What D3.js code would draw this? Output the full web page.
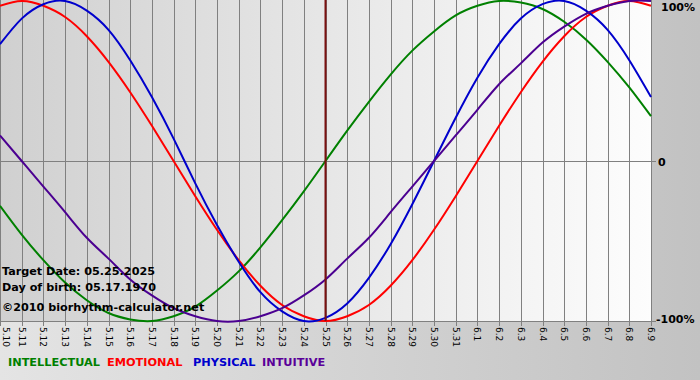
<!DOCTYPE html>
<html><head><meta charset="utf-8">
<script src="https://cdn.jsdelivr.net/npm/d3@7"></script>
<style>html,body{margin:0;padding:0;}svg{display:block;}</style>
</head><body>
<svg id="c" width="700" height="380"></svg>
<script>
const dayLabels = ["5.10","5.11","5.12","5.13","5.14","5.15","5.16","5.17","5.18","5.19","5.20","5.21","5.22","5.23","5.24","5.25","5.26","5.27","5.28","5.29","5.30","5.31","6.1","6.2","6.3","6.4","6.5","6.6","6.7","6.8","6.9"];
const intellectual = [-0.28,-0.46,-0.62,-0.76,-0.87,-0.95,-0.99,-1.00,-0.97,-0.91,-0.81,-0.69,-0.54,-0.37,-0.19,0.00,0.19,0.37,0.54,0.69,0.81,0.91,0.97,1.00,0.99,0.95,0.87,0.76,0.62,0.46,0.28];
const emotional = [0.97,1.00,0.97,0.90,0.78,0.62,0.43,0.22,0.00,-0.22,-0.43,-0.62,-0.78,-0.90,-0.97,-1.00,-0.97,-0.90,-0.78,-0.62,-0.43,-0.22,0.00,0.22,0.43,0.62,0.78,0.90,0.97,1.00,0.97];
const physical = [0.73,0.89,0.98,1.00,0.94,0.82,0.63,0.40,0.14,-0.14,-0.40,-0.63,-0.82,-0.94,-1.00,-0.98,-0.89,-0.73,-0.52,-0.27,0.00,0.27,0.52,0.73,0.89,0.98,1.00,0.94,0.82,0.63,0.40];
const intuitive = [0.16,0.00,-0.16,-0.32,-0.48,-0.61,-0.74,-0.84,-0.92,-0.97,-1.00,-1.00,-0.97,-0.92,-0.84,-0.74,-0.61,-0.48,-0.32,-0.16,0.00,0.16,0.32,0.48,0.61,0.74,0.84,0.92,0.97,1.00,1.00];
const seriesNames = ["INTELLECTUAL","EMOTIONAL","PHYSICAL","INTUITIVE"];
const yTickLabels = ["100%","0","-100%"];
const yTickValues = [1,0,-1];
const targetIndex = 15;
const infoLines = ["Target Date: 05.25.2025","Day of birth: 05.17.1970","©2010 biorhythm-calculator.net"];

const colors = {INTELLECTUAL:"#008000",EMOTIONAL:"#ff0000",PHYSICAL:"#0000cc",INTUITIVE:"#4b0091"};
const legendColors = {INTELLECTUAL:"#008000",EMOTIONAL:"#ff0000",PHYSICAL:"#0000cc",INTUITIVE:"#5a0099"};
const series = [
  {name:"INTELLECTUAL", values:intellectual},
  {name:"EMOTIONAL", values:emotional},
  {name:"PHYSICAL", values:physical},
  {name:"INTUITIVE", values:intuitive}
];

const svg = d3.select("#c");
const defs = svg.append("defs");
const bgG = defs.append("linearGradient").attr("id","bg").attr("x1","0").attr("x2","1").attr("y1","0").attr("y2","0");
bgG.append("stop").attr("offset","0").attr("stop-color","#e4e4e4");
bgG.append("stop").attr("offset","1").attr("stop-color","#c2c2c2");
const plG = defs.append("linearGradient").attr("id","pl").attr("x1","0").attr("x2","1").attr("y1","0").attr("y2","0");
plG.append("stop").attr("offset","0").attr("stop-color","#d0d0d0");
plG.append("stop").attr("offset","1").attr("stop-color","#fdfdfd");

const pLeft = 0, pRight = 651, pTop = 0, pBottom = 321;
const x = d3.scaleLinear().domain([0, dayLabels.length-1]).range([pLeft, pRight]);
const y = d3.scaleLinear().domain([-1,1]).range([pBottom, pTop+1]);

svg.append("rect").attr("width",700).attr("height",380).attr("fill","url(#bg)");
svg.append("rect").attr("x",pLeft).attr("y",pTop).attr("width",pRight-pLeft+1).attr("height",pBottom-pTop).attr("fill","url(#pl)");

// vertical grid
svg.append("g").selectAll("line").data(dayLabels).join("line")
  .attr("x1",(d,i)=>Math.round(x(i))+0.5).attr("x2",(d,i)=>Math.round(x(i))+0.5)
  .attr("y1",pTop).attr("y2",pBottom+5)
  .attr("stroke","#808080").attr("stroke-width",1);

// horizontal zero line and bottom axis
svg.append("line").attr("x1",pLeft).attr("x2",pRight+5).attr("y1",Math.round(y(0))+0.5).attr("y2",Math.round(y(0))+0.5).attr("stroke","#808080");
svg.append("line").attr("x1",pLeft).attr("x2",pRight+5).attr("y1",pBottom+0.5).attr("y2",pBottom+0.5).attr("stroke","#808080");

// x labels
svg.append("g").selectAll("text").data(dayLabels).join("text")
  .attr("transform",(d,i)=>`translate(${Math.max(Math.round(x(i))-3,3)},${pBottom+6}) rotate(90)`)
  .attr("font-family","DejaVu Sans, Verdana, sans-serif").attr("font-size","9px")
  .attr("fill","#000").text(d=>d);

// y labels
svg.append("g").selectAll("text").data(yTickValues).join("text")
  .attr("x",(d,i)=>i===1?658:(i===0?661:656))
  .attr("y",d=>Math.min(Math.max(y(d),6),318)+5)
  .attr("font-family","DejaVu Sans, Verdana, sans-serif").attr("font-weight","bold").attr("font-size","11px")
  .attr("fill","#000").text((d,i)=>yTickLabels[i]);

// curves
const line = d3.line().x((d,i)=>x(i)).y(d=>y(d)).curve(d3.curveNatural);
svg.append("g").selectAll("path").data(series).join("path")
  .attr("d",d=>line(d.values)).attr("fill","none")
  .attr("stroke",d=>colors[d.name]).attr("stroke-width",2);

// target line
svg.append("line").attr("x1",x(targetIndex)).attr("x2",x(targetIndex)).attr("y1",pTop).attr("y2",pBottom)
  .attr("stroke","#7a1010").attr("stroke-width",2);

// info text
svg.append("g").selectAll("text").data(infoLines).join("text")
  .attr("x",2).attr("y",(d,i)=>[275,291,311][i])
  .attr("font-family","DejaVu Sans, Verdana, sans-serif").attr("font-weight","bold").attr("font-size","11.2px")
  .attr("fill","#000").text(d=>d);

// legend
const legendX = [8,107,193,262];
svg.append("g").selectAll("text").data(seriesNames).join("text")
  .attr("x",(d,i)=>legendX[i]).attr("y",366)
  .attr("font-family","DejaVu Sans, Verdana, sans-serif").attr("font-weight","bold").attr("font-size","11.3px")
  .attr("fill",d=>legendColors[d]).text(d=>d);
</script>
</body></html>
